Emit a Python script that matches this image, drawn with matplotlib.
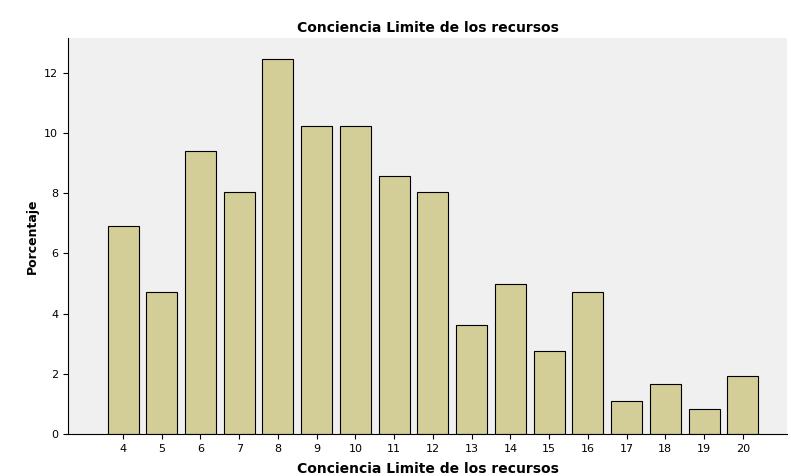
import matplotlib.pyplot as plt

# valores
categorias = [4, 5, 6, 7, 8, 9, 10, 11, 12, 13, 14, 15, 16, 17, 18, 19, 20]
porcentaje = [6.9, 4.7, 9.4, 8.04, 12.45, 10.23, 10.23, 8.57, 8.04, 3.62,
              4.98, 2.76, 4.7, 1.1, 1.66, 0.83, 1.93]

fig = plt.figure(figsize=(7.91, 4.76), dpi=100)
ax = fig.add_axes([68 / 791, 1 - 434 / 476, (787 - 68) / 791, (434 - 38) / 476])
ax.set_facecolor('#f0f0f0')
ax.bar(categorias, porcentaje, width=0.8, color='#d3ce97', edgecolor='black', linewidth=0.8)

ax.set_xlim(2.58, 21.14)
ax.set_ylim(0, 13.15)
ax.set_xticks(categorias)
ax.set_yticks([0, 2, 4, 6, 8, 10, 12])
ax.tick_params(labelsize=8)
for s in ['top', 'right']:
    ax.spines[s].set_visible(False)

ax.set_title("Conciencia Limite de los recursos", fontsize=10, fontweight='bold', pad=4)
ax.set_xlabel("Conciencia Limite de los recursos", fontsize=10, fontweight='bold', labelpad=6)
ax.set_ylabel("Porcentaje", fontsize=9, fontweight='bold')

fig.savefig("out.png", dpi=100)
